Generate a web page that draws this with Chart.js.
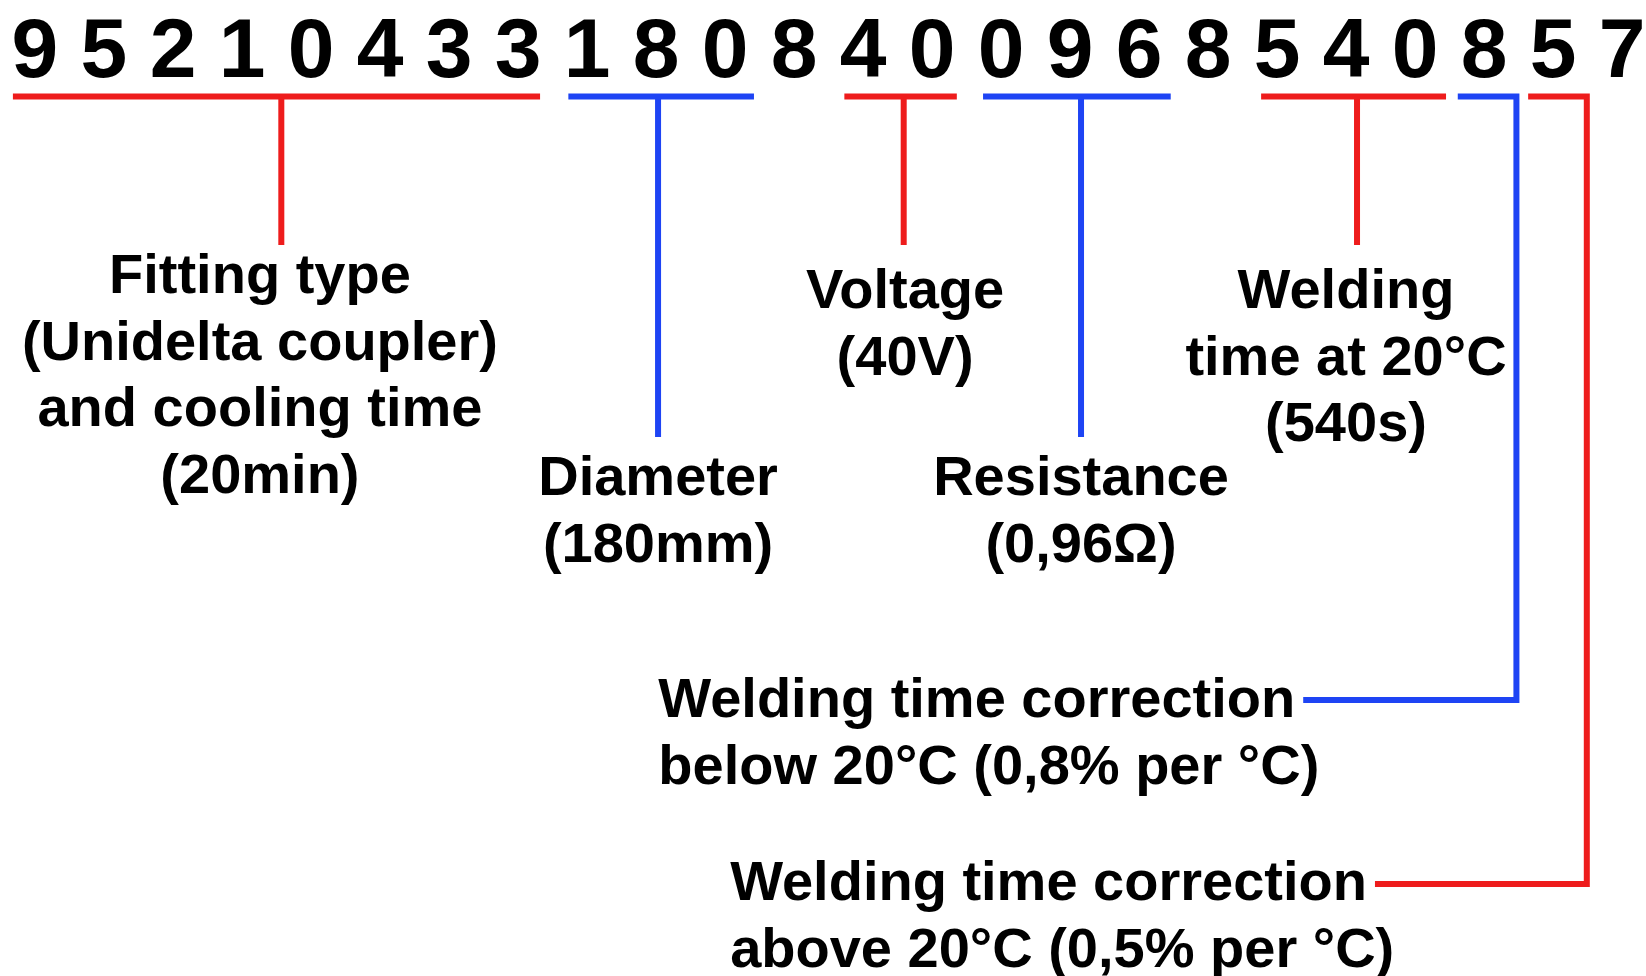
<!DOCTYPE html>
<html>
<head>
<meta charset="utf-8">
<title>Fitting code</title>
<script src="https://cdn.jsdelivr.net/npm/chart.js@4.4.1/dist/chart.umd.min.js"></script>
<style>
    html, body { margin: 0; padding: 0; background: #fff; }
    #wrap { width: 1646px; height: 976px; position: relative; }
</style>
</head>
<body>
<div id="wrap"><canvas id="codeChart"></canvas></div>
<script>
// the code printed on the fitting, one digit per slot
var digits = ['9', '5', '2', '1', '0', '4', '3', '3', '1', '8', '0', '8',
              '4', '0', '0', '9', '6', '8', '5', '4', '0', '8', '5', '7'];

// which slots belong to which field
var groupFirst = [0, 8, 12, 14, 18, 21, 22];
var groupLast = [7, 10, 13, 16, 20, 21, 22];
var groupColor = ['red', 'blue', 'red', 'blue', 'red', 'blue', 'red'];

var groupLabels = [
    ['Fitting type', '(Unidelta coupler)', 'and cooling time', '(20min)'],
    ['Diameter', '(180mm)'],
    ['Voltage', '(40V)'],
    ['Resistance', '(0,96\u03A9)'],
    ['Welding', 'time at 20\u00B0C', '(540s)'],
    ['Welding time correction', 'below 20\u00B0C (0,8% per \u00B0C)'],
    ['Welding time correction', 'above 20\u00B0C (0,5% per \u00B0C)']
];

// layout (slot units across, pixel rows down)
var colors = { red: '#ee1c1c', blue: '#1e44f4' };
var lineY = 96.5;
var underStart = [-0.32, -0.27, -0.27, -0.26, -0.23, -0.38, -0.36];
var underEnd = [0.32, 0.42, 0.36, 0.46, 0.45, 0.47, 0.49];
var stemAt = [3.57, 9.03, 12.59, 15.16, 19.16, null, null];
var dropY = [245, 437, 245, 437, 245, 700, 884];
var bentTo = [null, null, null, null, null, 18.38, 19.42];  // bent leaders end here
var labelBase = [293, 495, 308, 495, 308, 717, 900];
var labelShift = [-0.31, 0, 0.02, 0, -0.16, 0, 0];
var lineGap = 66.5;

// build the leader lines from the groups
var datasets = [];
for (var i = 0; i < groupFirst.length; i++) {
    var col = colors[groupColor[i]];
    var a = groupFirst[i] + underStart[i], b = groupLast[i] + underEnd[i];
    if (bentTo[i] === null) {
        datasets.push({ data: [{x: a, y: lineY}, {x: b, y: lineY}], borderColor: col });
        datasets.push({ data: [{x: stemAt[i], y: lineY}, {x: stemAt[i], y: dropY[i]}], borderColor: col });
    } else {
        datasets.push({
            data: [{x: a, y: lineY}, {x: b, y: lineY}, {x: b, y: dropY[i]}, {x: bentTo[i], y: dropY[i]}],
            borderColor: col
        });
    }
}
datasets.forEach(function (d) {
    d.showLine = true;
    d.borderWidth = 6;
    d.pointRadius = 0;
    d.borderCapStyle = 'butt';
    d.borderJoinStyle = 'miter';
    d.fill = false;
});

var FONT = '"Liberation Sans", Arial, sans-serif';

// digits and labels are drawn on top of the scales
var textPlugin = {
    id: 'codeText',
    afterDatasetsDraw: function (chart) {
        var ctx = chart.ctx;
        var sx = chart.scales.x, sy = chart.scales.y;
        ctx.save();
        ctx.fillStyle = '#000';
        ctx.textBaseline = 'alphabetic';

        ctx.font = 'bold 84px ' + FONT;
        ctx.textAlign = 'center';
        digits.forEach(function (d, k) {
            ctx.fillText(d, sx.getPixelForValue(k), sy.getPixelForValue(77));
        });

        ctx.font = 'bold 56px ' + FONT;
        for (var i = 0; i < groupLabels.length; i++) {
            var lines = groupLabels[i];
            var x;
            if (bentTo[i] === null) {
                ctx.textAlign = 'center';
                x = sx.getPixelForValue(stemAt[i] + labelShift[i]);
            } else {
                ctx.textAlign = 'left';
                x = sx.getPixelForValue(bentTo[i]) - 8 - ctx.measureText(lines[0]).width;
            }
            for (var j = 0; j < lines.length; j++) {
                ctx.fillText(lines[j], x, sy.getPixelForValue(labelBase[i] + j * lineGap));
            }
        }
        ctx.restore();
    }
};

var ctxC = document.getElementById('codeChart').getContext('2d');
var codeChart = new Chart(ctxC, {
    type: 'scatter',
    data: { datasets: datasets },
    options: {
        responsive: true,
        maintainAspectRatio: false,
        animation: false,
        events: [],
        layout: { padding: 0 },
        scales: {
            x: { type: 'linear', min: -0.507, max: 23.348, display: false },
            y: { type: 'linear', min: 0, max: 976, reverse: true, display: false }
        },
        plugins: {
            legend: { display: false },
            tooltip: { enabled: false }
        }
    },
    plugins: [textPlugin]
});
</script>
</body>
</html>
